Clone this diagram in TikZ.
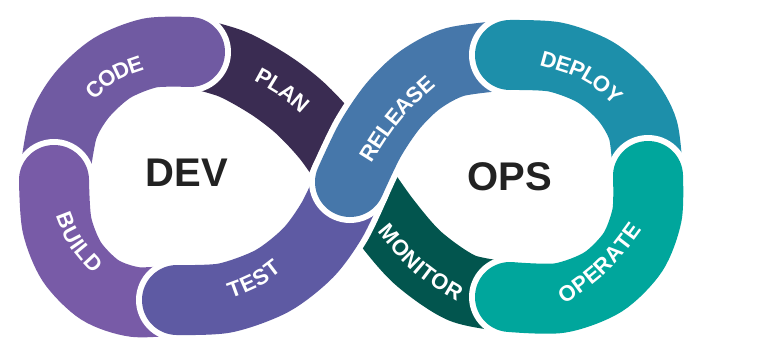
\documentclass[tikz,border=0pt]{standalone}
\usepackage{fontspec}
\setmainfont{Liberation Sans}
\usetikzlibrary{
  decorations.text}  % for the labels along the band

\definecolor{plancol}{HTML}{3A2C52}
\definecolor{codecol}{HTML}{705AA2}
\definecolor{buildcol}{HTML}{785BA7}
\definecolor{testcol}{HTML}{5E5AA3}
\definecolor{releasecol}{HTML}{4677AA}
\definecolor{deploycol}{HTML}{1D8FAA}
\definecolor{operatecol}{HTML}{00A69C}
\definecolor{monitorcol}{HTML}{02554E}
\definecolor{hubcol}{HTML}{222222}

\newcommand\stagefont{\fontsize{22}{22}\selectfont\bfseries}

\tikzset{
  stage/.style={
    draw=#1, line width=70pt, line cap=round,
    preaction={draw=white, line width=82pt, line cap=round}},
  stage label/.style={
    decorate, decoration={
      text along path, text align=center, text color=white,
      raise=-8pt, text={|\stagefont|#1}}},
  hub/.style={
    font=\fontsize{40}{40}\selectfont\bfseries, text=hubcol}
}

\begin{document}
\begin{tikzpicture}[x=1pt, y=-1pt]
\useasboundingbox (0,0) rectangle (771,348);

% joints of the band
\coordinate (plan-code)  at (190,52);
\coordinate (code-build) at (54,180);
\coordinate (build-test) at (177,300);
\coordinate (test-rel)   at (350,182);
\coordinate (rel-dep)    at (510,55);
\coordinate (dep-oper)   at (648,176);
\coordinate (oper-mon)   at (510,297);
\coordinate (mon-plan)   at (355,177);

% the band, from back to front
\draw[stage=plancol] plot[smooth] coordinates {
  (mon-plan) (328,138) (300,108) (270,85) (232,64) (plan-code)};
\draw[stage=codecol] plot[smooth] coordinates {
  (plan-code) (150,53) (112,68) (82,95) (63,128) (code-build)};
\draw[stage=buildcol] plot[smooth] coordinates {
  (code-build) (57,225) (72,262) (100,290) (135,302) (build-test)};
\draw[stage=monitorcol] plot[smooth] coordinates {
  (oper-mon) (462,288) (418,258) (385,220) (mon-plan)};
\draw[stage=testcol] plot[smooth] coordinates {
  (build-test) (225,298) (272,281) (308,253) (332,220) (test-rel)};
\draw[stage=releasecol] plot[smooth] coordinates {
  (test-rel) (370,140) (393,106) (420,80) (455,62) (rel-dep)};
\draw[stage=deploycol] plot[smooth] coordinates {
  (rel-dep) (555,57) (595,72) (625,98) (643,130) (dep-oper)};
\draw[stage=operatecol] plot[smooth] coordinates {
  (dep-oper) (647,215) (633,252) (603,282) (560,298) (oper-mon)};

% labels along the band
\path[stage label=PLAN]    (235,62)  .. controls (286.7,88.8) .. (325,125);
\path[stage label=CODE]    (72,112)  .. controls (111.2,70.8) .. (165,55);
\path[stage label=BUILD]   (57,195)  .. controls (73.2,241.8) .. (112,282);
\path[stage label=TEST]    (200,300) .. controls (258,281.2)  .. (300,245);
\path[stage label=RELEASE] (355,175) .. controls (393.3,112.8) .. (445,68);
\path[stage label=DEPLOY]  (520,52)  .. controls (591.5,70.8) .. (635,115);
\path[stage label=OPERATE] (540,312) .. controls (605.7,267.2) .. (650,205);
\path[stage label=MONITOR] (370,210) .. controls (418.3,270.2) .. (480,305);

\node[hub] (dev) at (187,173) {DEV};
\node[hub] (ops) at (510,177) {OPS};
\end{tikzpicture}
\end{document}
